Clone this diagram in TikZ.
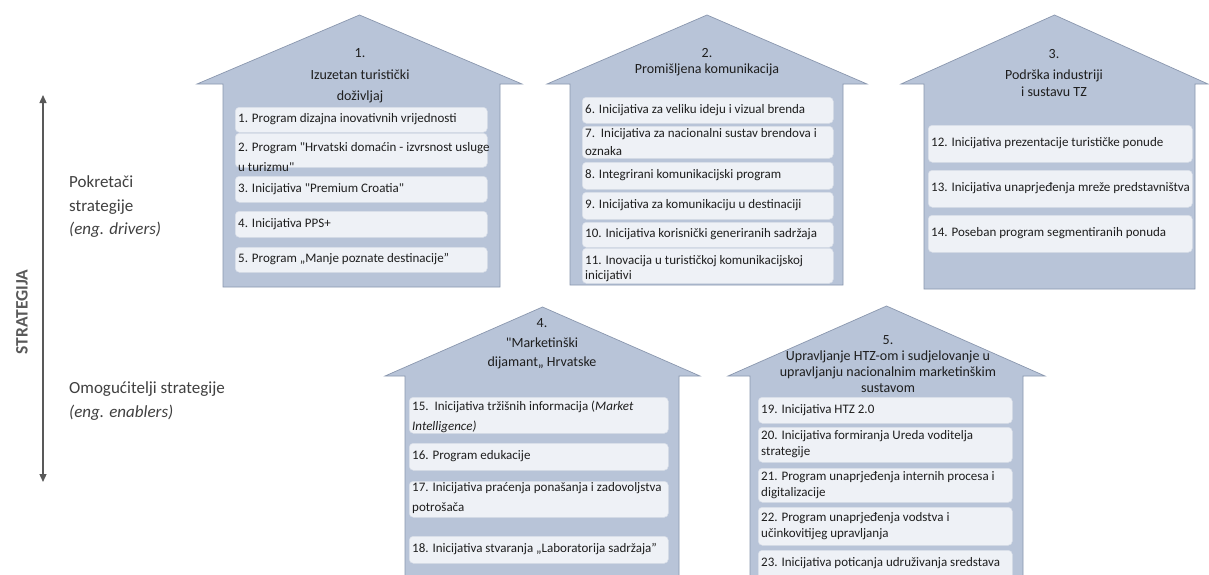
\documentclass[tikz,border=0pt]{standalone}
\usepackage{fontspec}
\setmainfont{Carlito}[Ligatures=TeXOff]
\usetikzlibrary{arrows.meta, positioning}

\definecolor{housefill}{HTML}{B8C4D8}
\definecolor{houseedge}{HTML}{8A97AE}
\definecolor{itemfill}{HTML}{EEF1F6}
\definecolor{itemedge}{HTML}{D8DEE8}
\definecolor{textdark}{HTML}{1E1E1E}
\definecolor{labelgray}{HTML}{404040}
\definecolor{arrowgray}{HTML}{595959}

\tikzset{
  housebody/.style={fill=housefill, draw=houseedge, line width=0.7pt},
  itembox/.style={draw=itemedge, fill=itemfill, rounded corners=4pt, anchor=north west, inner sep=0pt, line width=0.5pt},
  itemtext/.style={anchor=west, align=left, inner sep=0pt, text=textdark, font=\fontsize{13}{#1}\selectfont},
  itemtext/.default=15,
  housetitle/.style={align=center, inner sep=0pt, text=textdark, font=\fontsize{14}{#1}\selectfont},
  sidelabel/.style={anchor=west, align=left, inner sep=0pt, text=labelgray, font=\fontsize{17}{23.5}\selectfont},
  strattitle/.style={inner sep=0pt, text=arrowgray, font=\fontsize{17.5}{20}\selectfont\bfseries},
  stratarrow/.style={draw=arrowgray, line width=1.3pt, {Triangle[length=8pt,width=7pt]}-{Triangle[length=8pt,width=7pt]}}
}

% house: left eave, wall left, wall right, right eave, eave y, peak y, bottom
\newcommand{\drawhouse}[7]{%
  \draw[housebody] (#2,#7) -- (#2,#5) -- (#1,#5) -- ({(#1+#4)/2},#6) -- (#4,#5) -- (#3,#5) -- (#3,#7) -- cycle;
}
% initiative box: [baselineskip] name, x, top, width, height, text y, text
\newcommand{\inibox}[8][15]{%
  \node[itembox, minimum width=#5pt, minimum height=#6pt] (#2) at (#3,#4) {};
  \node[itemtext=#1] (#2t) at ({#3+3},#7) {#8};
}

\begin{document}
\begin{tikzpicture}[x=1pt, y=-1pt]
  \useasboundingbox (0,0) rectangle (1209,574);
  \fill[white] (0,0) rectangle (1209,574);

  % left side
  \coordinate (arrtop) at (43,95);
  \coordinate (arrbot) at (43,482);
  \draw[stratarrow] (arrtop) -- (arrbot);
  \node[strattitle, rotate=90] (strat) at (22,312) {STRATEGIJA};
  \node[sidelabel] (drivers) at (69,207) {Pokretači\\strategije\\\textit{(eng. drivers)}};
  \node[sidelabel] (enablers) at (69,401) {Omogućitelji strategije\\\textit{(eng. enablers)}};

  % houses
  \drawhouse{197}{223}{500}{522}{84}{15}{287}
  \drawhouse{547}{570}{843}{867}{84}{15}{285}
  \drawhouse{901}{924}{1195}{1208}{84}{15}{289}
  \drawhouse{385}{405}{679}{700}{376}{307}{580}
  \drawhouse{728}{750}{1023}{1045}{376}{306}{580}

  % titles
  \node[housetitle=21.5] (h1title) at (360,76) {1.\\Izuzetan turistički\\doživljaj};
  \node[housetitle=16] (h2title) at (707,62) {2.\\Promišljena komunikacija};
  \node[housetitle=17] (h3title) at (1054,73) {3.\\[4pt]Podrška industriji\\i sustavu TZ};
  \node[housetitle=19.5] (h4title) at (542,344) {4.\\"Marketinški\\dijamant„ Hrvatske};
  \node[housetitle=16.3] (h5title) at (888,364) {5.\\Upravljanje HTZ-om i sudjelovanje u\\upravljanju nacionalnim marketinškim\\sustavom};

  % house 1
  \inibox{b1}{235}{107}{252}{25}{119.5}{1. Program dizajna inovativnih vrijednosti}
  \inibox[20]{b2}{235}{133}{252}{34}{157.5}{2. Program "Hrvatski domaćin - izvrsnost usluge\\u turizmu"}
  \inibox{b3}{235}{176}{252}{26}{189}{3. Inicijativa "Premium Croatia"}
  \inibox{b4}{235}{211}{252}{26}{224}{4. Inicijativa PPS+}
  \inibox{b5}{235}{247}{252}{25}{259.5}{5. Program „Manje poznate destinacije”}

  % house 2
  \inibox{b6}{582}{97}{251}{26}{110}{6. Inicijativa za veliku ideju i vizual brenda}
  \inibox[18]{b7}{582}{126}{251}{32}{142}{7.~~Inicijativa za nacionalni sustav brendova i\\oznaka}
  \inibox{b8}{582}{162}{251}{27}{175.5}{8. Integrirani komunikacijski program}
  \inibox{b9}{582}{192}{251}{27}{205.5}{9. Inicijativa za komunikaciju u destinaciji}
  \inibox{b10}{582}{222}{251}{25}{234.5}{10. Inicijativa korisnički generiranih sadržaja}
  \inibox[15]{b11}{582}{248}{251}{35}{269}{11. Inovacija u turističkoj komunikacijskoj\\inicijativi}

  % house 3
  \inibox{b12}{928}{125}{264}{37}{143.5}{12. Inicijativa prezentacije turističke ponude}
  \inibox{b13}{928}{170}{264}{37}{188.5}{13. Inicijativa unaprjeđenja mreže predstavništva}
  \inibox{b14}{928}{215}{264}{37}{233.5}{14. Poseban program segmentiranih ponuda}

  % house 4
  \inibox[20]{b15}{409}{397}{259}{36}{417}{15.~~Inicijativa tržišnih informacija (\textit{Market}\\\textit{Intelligence)}}
  \inibox{b16}{409}{443}{259}{27}{456.5}{16. Program edukacije}
  \inibox[20]{b17}{409}{481}{259}{36}{498}{17. Inicijativa praćenja ponašanja i zadovoljstva\\potrošača}
  \inibox{b18}{409}{536}{259}{27}{549.5}{18. Inicijativa stvaranja „Laboratorija sadržaja”}

  % house 5
  \inibox{b19}{758}{397}{254}{26}{410}{19. Inicijativa HTZ 2.0}
  \inibox[16]{b20}{758}{427}{254}{35}{444.5}{20. Inicijativa formiranja Ureda voditelja\\strategije}
  \inibox[16]{b21}{758}{468}{254}{34}{485}{21. Program unaprjeđenja internih procesa i\\digitalizacije}
  \inibox[16]{b22}{758}{507}{254}{38}{526}{22. Program unaprjeđenja vodstva i\\učinkovitijeg upravljanja}
  \inibox{b23}{758}{550}{254}{40}{563}{23. Inicijativa poticanja udruživanja sredstava}
\end{tikzpicture}
\end{document}
